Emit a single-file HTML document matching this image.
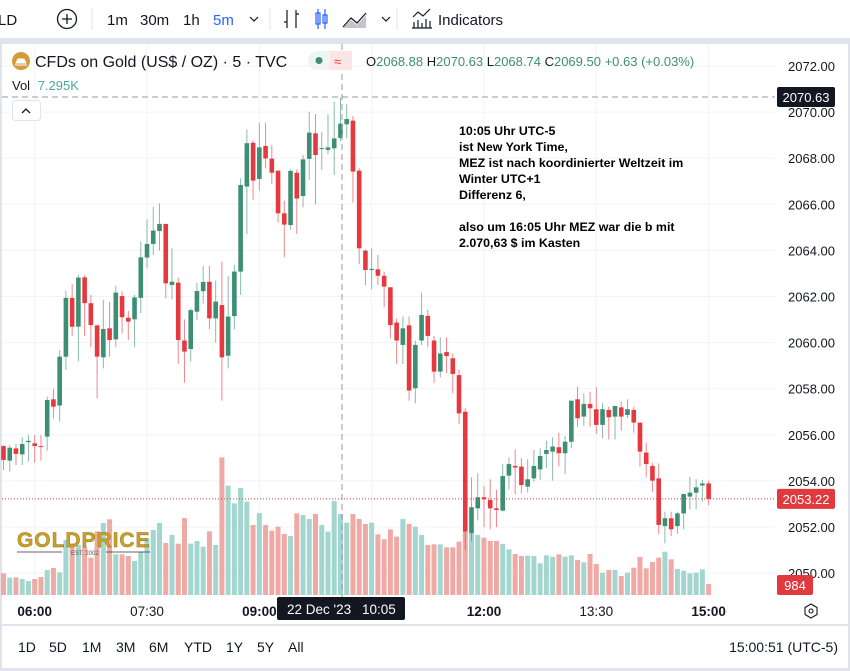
<!DOCTYPE html>
<html><head><meta charset="utf-8">
<style>
html,body{margin:0;padding:0;background:#fff;}
body{width:850px;height:671px;overflow:hidden;font-family:"Liberation Sans",sans-serif;position:relative;}
svg{position:absolute;left:0;top:0;}
text{font-family:"Liberation Sans",sans-serif;}
</style></head>
<body>
<svg id="chart" width="850" height="671" viewBox="0 0 850 671">
  <rect x="0" y="0" width="850" height="38" fill="#fff"/>
  <rect x="0" y="38" width="850" height="6" fill="#e0e3eb"/>
  <text x="-2" y="25" font-size="15" fill="#131722">LD</text>
  <g><circle cx="67" cy="19" r="9.5" fill="none" stroke="#131722" stroke-width="1.3"/><path d="M67 14v10M62 19h10" stroke="#131722" stroke-width="1.3"/></g>
  <line x1="92" y1="8" x2="92" y2="30" stroke="#e0e3eb"/>
  <text x="107" y="25" font-size="15" fill="#131722">1m</text>
  <text x="140" y="25" font-size="15" fill="#131722">30m</text>
  <text x="183" y="25" font-size="15" fill="#131722">1h</text>
  <text x="213" y="25" font-size="15" fill="#2962ff">5m</text>
  <path d="M250 17l4 4 4-4" fill="none" stroke="#131722" stroke-width="1.2"/>
  <line x1="270" y1="8" x2="270" y2="30" stroke="#e0e3eb"/>
  <g stroke="#131722" stroke-width="1.2" fill="none"><path d="M287 10v18M284 22h3M296 10v18M296 14h3"/></g>
  <g stroke="#2962ff" stroke-width="1.2" fill="none"><path d="M318 9v20M325 9v20"/><rect x="316" y="13" width="4" height="11"/><rect x="323" y="15" width="4" height="8"/></g>
  <g><path d="M343 27l8-9 6 5 9-10" fill="none" stroke="#131722" stroke-width="1.2"/><path d="M343 28l8-8 6 5 9-10v13z" fill="#131722" opacity="0.25"/></g>
  <path d="M382 17l4 4 4-4" fill="none" stroke="#131722" stroke-width="1.2"/>
  <line x1="397" y1="8" x2="397" y2="30" stroke="#e0e3eb"/>
  <g><path d="M413 17l5-5 5 4 7-7M414 28v-6M418 28v-8M422 28v-5M426 28v-9M430 28v-7M412 28h20" fill="none" stroke="#131722" stroke-width="1.2"/><text x="438" y="25" font-size="15" fill="#131722">Indicators</text></g>

  <rect x="2" y="44" width="846" height="580" rx="6" fill="#fff"/>
  <rect x="0" y="44" width="2" height="627" fill="#e0e3eb"/>
  <rect x="848" y="44" width="2" height="627" fill="#e0e3eb"/>
  <line x1="2" y1="625" x2="848" y2="625" stroke="#e0e3eb" stroke-width="2"/>
  <g id="grid"></g>
  <g id="vols"></g>

  <g>
    <text x="17" y="547" font-size="21" font-weight="bold" fill="#c9a227" stroke="#8a6d10" stroke-width="0.4" letter-spacing="0.5" textLength="133" font-family="Liberation Sans">GOLDPRICE</text>
    <line x1="17" y1="552" x2="62" y2="552" stroke="#333" stroke-width="0.8"/>
    <line x1="106" y1="552" x2="150" y2="552" stroke="#333" stroke-width="0.8"/>
    <text x="71" y="555" font-size="6" fill="#555" font-family="Liberation Serif">EST. 2002</text>
  </g>

  <g id="candles"></g>

  <line x1="2" y1="97" x2="775" y2="97" stroke="#9598a1" stroke-dasharray="6,4"/>
  <line x1="342" y1="44" x2="342" y2="597" stroke="#9598a1" stroke-dasharray="6,4"/>
  <line id="lastline" x1="2" y1="499" x2="775" y2="499" stroke="#f23645" stroke-dasharray="1,2"/>

  <g>
    <circle cx="21" cy="61" r="9" fill="#d49a3a"/>
    <path d="M15 65h12M16 63l2-4h6l2 4z" fill="#fff" stroke="#fff" stroke-width="1"/>
    <text x="35" y="67" font-size="16" fill="#131722">CFDs on Gold (US$ / OZ) · 5 · TVC</text>
    <rect x="308" y="51" width="44" height="19" rx="9.5" fill="#eef5f2"/>
    <rect x="330" y="51" width="22" height="19" fill="#fbe5e7"/>
    <circle cx="319" cy="60.5" r="3.5" fill="#3d8f74"/>
    <text x="334" y="66" font-size="13" fill="#e0393e">≈</text>
    <text x="366" y="66" font-size="13"><tspan fill="#131722">O</tspan><tspan fill="#3d8f74">2068.88 </tspan><tspan fill="#131722">H</tspan><tspan fill="#3d8f74">2070.63 </tspan><tspan fill="#131722">L</tspan><tspan fill="#3d8f74">2068.74 </tspan><tspan fill="#131722">C</tspan><tspan fill="#3d8f74">2069.50 +0.63 (+0.03%)</tspan></text>
    <text x="12" y="90" font-size="13" fill="#131722">Vol <tspan fill="#4fa89a" dx="4">7.295K</tspan></text>
  </g>
  <g><rect x="12.5" y="100.5" width="28" height="20" rx="3" fill="#fff" stroke="#e0e3eb"/><path d="M22 113l4-4 4 4" fill="none" stroke="#131722" stroke-width="1.3"/></g>

  <g font-size="12.4" font-weight="bold" fill="#000">
    <text x="459" y="135">10:05 Uhr UTC-5</text>
    <text x="459" y="151">ist New York Time,</text>
    <text x="459" y="167">MEZ ist nach koordinierter Weltzeit im</text>
    <text x="459" y="183">Winter UTC+1</text>
    <text x="459" y="199">Differenz 6,</text>
    <text x="459" y="231">also um 16:05 Uhr MEZ war die b mit</text>
    <text x="459" y="247">2.070,63 $ im Kasten</text>
  </g>

  <g id="yaxis"></g>
  <g><rect x="777" y="87" width="58" height="20" rx="2" fill="#131722"/><text x="806" y="102" font-size="13" fill="#fff" text-anchor="middle">2070.63</text></g>
  <g><rect id="lastbox" x="777" y="489" width="58" height="20" rx="2" fill="#e0393e"/><text id="lasttxt" x="806" y="504" font-size="13" fill="#fff" text-anchor="middle">2053.22</text></g>
  <g><rect x="777" y="575" width="36" height="20" rx="2" fill="#e0393e"/><text x="795" y="590" font-size="13" fill="#fff" text-anchor="middle">984</text></g>

  <g id="xaxis"></g>
  <g><rect x="277" y="597" width="128" height="23" rx="2" fill="#131722"/><text x="287" y="614" font-size="13.5" fill="#fff">22 Dec '23</text><text x="362" y="614" font-size="13.5" fill="#fff">10:05</text></g>
  <g><path d="M811 604l6 3.5v7l-6 3.5-6-3.5v-7z" fill="none" stroke="#131722" stroke-width="1.1"/><circle cx="811" cy="611" r="2" fill="none" stroke="#131722" stroke-width="1.1"/></g>

  <g font-size="14" fill="#131722">
    <text x="18" y="652">1D</text>
    <text x="49" y="652">5D</text>
    <text x="82" y="652">1M</text>
    <text x="116" y="652">3M</text>
    <text x="149" y="652">6M</text>
    <text x="184" y="652">YTD</text>
    <text x="226" y="652">1Y</text>
    <text x="257" y="652">5Y</text>
    <text x="288" y="652">All</text>
  </g>
  <text x="838" y="652" font-size="14" fill="#131722" text-anchor="end">15:00:51 (UTC-5)</text>
  <rect x="0" y="668" width="850" height="3" fill="#e0e3eb"/>
</svg>
<script>
const opens=[2055.51,2054.88,2055.41,2055.15,2055.68,2055.63,2055.51,2055.92,2057.54,2057.27,2059.39,2061.94,2060.69,2062.83,2061.71,2060.75,2059.36,2060.62,2060.14,2062.02,2061.08,2061.01,2061.94,2063.69,2064.28,2064.84,2065.15,2062.50,2062.60,2060.09,2059.72,2061.34,2062.23,2062.64,2061.05,2061.63,2059.43,2061.15,2063.08,2066.77,2068.67,2067.10,2068.53,2067.98,2067.46,2065.61,2065.10,2067.37,2066.36,2067.97,2069.08,2068.41,2068.36,2068.43,2068.88,2069.47,2069.63,2067.46,2063.99,2063.15,2063.18,2062.90,2062.40,2060.87,2059.90,2060.75,2058.02,2060.09,2061.16,2060.09,2058.74,2059.59,2059.32,2058.59,2057.00,2051.73,2052.81,2053.29,2053.17,2052.81,2052.71,2054.23,2054.65,2054.62,2053.75,2054.11,2054.50,2055.17,2055.27,2055.46,2055.20,2055.70,2057.54,2056.79,2057.34,2057.11,2056.43,2057.08,2056.79,2057.19,2056.86,2057.08,2056.53,2055.23,2054.65,2054.11,2052.04,2052.38,2052.04,2052.59,2053.32,2053.49,2053.80,2053.89];
const highs=[2055.55,2055.56,2055.60,2055.89,2055.99,2055.99,2055.99,2057.66,2057.99,2059.68,2062.24,2062.54,2062.93,2062.93,2062.07,2060.75,2061.85,2061.76,2062.46,2062.23,2061.37,2062.07,2064.38,2065.35,2065.90,2066.04,2065.15,2064.09,2062.83,2061.01,2061.49,2062.60,2063.32,2063.32,2062.69,2063.51,2062.89,2063.37,2067.13,2069.25,2068.76,2069.54,2069.54,2068.57,2067.46,2066.16,2067.52,2067.52,2068.14,2070.02,2069.92,2069.15,2069.92,2070.45,2070.63,2070.35,2069.83,2067.56,2064.05,2064.09,2063.80,2063.08,2062.40,2061.05,2061.13,2061.13,2060.09,2062.17,2061.42,2060.29,2060.23,2060.23,2059.53,2058.84,2057.15,2054.16,2054.33,2053.78,2054.07,2053.61,2054.73,2055.02,2055.37,2054.98,2054.94,2055.34,2055.41,2055.75,2055.89,2056.09,2055.95,2057.48,2058.09,2057.80,2057.87,2058.06,2057.37,2057.22,2057.25,2057.44,2057.54,2057.22,2056.53,2055.66,2054.79,2054.76,2052.66,2052.66,2052.66,2053.46,2054.18,2054.07,2054.04,2054.01];
const lows=[2054.47,2054.40,2054.69,2054.69,2054.84,2054.79,2054.88,2055.31,2056.72,2056.57,2058.81,2060.29,2059.18,2060.29,2059.80,2057.58,2058.88,2059.39,2059.80,2060.40,2060.12,2059.80,2061.27,2063.22,2063.80,2063.99,2061.92,2061.88,2059.07,2058.26,2059.17,2060.98,2061.70,2060.58,2060.00,2057.48,2058.88,2060.58,2062.07,2064.71,2066.19,2066.59,2067.56,2066.88,2065.20,2063.70,2064.89,2064.71,2065.87,2067.06,2066.00,2067.49,2068.18,2067.27,2068.74,2068.86,2066.07,2063.41,2062.50,2062.31,2062.50,2061.53,2060.19,2059.07,2059.07,2057.48,2057.37,2059.90,2059.80,2058.26,2058.49,2058.67,2057.80,2056.47,2051.00,2051.37,2052.28,2051.99,2051.90,2051.99,2052.67,2053.61,2053.43,2053.46,2053.49,2053.97,2054.04,2054.55,2054.01,2054.62,2054.30,2055.41,2056.35,2056.38,2056.35,2056.04,2055.85,2055.80,2055.80,2056.18,2056.72,2056.09,2054.62,2054.16,2053.53,2051.70,2051.29,2051.61,2051.70,2051.90,2052.77,2052.77,2053.10,2052.95];
const closes=[2054.91,2055.44,2055.17,2055.60,2055.74,2055.51,2055.48,2057.51,2057.22,2059.39,2061.94,2060.69,2062.82,2061.71,2060.76,2059.39,2060.59,2060.11,2062.17,2061.10,2060.91,2061.96,2063.70,2064.28,2064.86,2065.15,2062.57,2062.64,2060.11,2059.61,2061.41,2062.24,2062.63,2061.05,2061.78,2059.36,2061.13,2063.08,2066.84,2068.65,2067.03,2068.47,2067.99,2067.37,2065.61,2065.12,2067.45,2066.25,2067.95,2069.11,2068.14,2068.44,2068.47,2068.86,2069.50,2069.70,2067.42,2064.09,2063.15,2063.20,2062.90,2062.43,2060.76,2060.09,2060.62,2057.92,2059.90,2061.20,2060.29,2058.74,2059.53,2059.42,2058.64,2056.93,2051.80,2052.86,2053.29,2053.20,2052.81,2052.74,2054.21,2054.73,2054.58,2053.82,2054.07,2054.65,2055.08,2055.34,2055.49,2055.20,2055.70,2057.48,2056.72,2057.34,2057.15,2056.43,2057.11,2056.76,2057.25,2056.79,2057.11,2056.53,2055.27,2054.73,2054.01,2052.09,2052.38,2051.90,2052.59,2053.43,2053.49,2053.72,2053.89,2053.22];
const volumes=[1950,1560,1590,1440,1260,1440,1620,2250,2430,2040,4950,4650,4500,4350,3360,5730,6480,6810,3660,3660,3510,3060,3900,5100,5850,6480,4680,5400,4620,6930,4620,4860,4350,5730,4500,12390,9840,8250,9630,8400,6300,7380,6300,5790,6150,5490,5310,7350,7200,6840,7290,6300,5700,8460,7290,6510,7290,6840,6390,6510,5460,5010,5910,5250,6840,6390,6150,5400,4500,4560,4560,4290,4290,4800,5700,5550,5400,5160,4860,4860,4590,4110,3690,3510,3540,3510,2850,3570,3450,3660,3450,3570,3150,2940,3690,2790,2010,2250,2250,1710,2010,2460,3420,2400,2970,3360,3900,3210,2340,2190,1950,2010,2310,984];
const priceTicks=[2072,2070,2068,2066,2064,2062,2060,2058,2056,2054,2052,2050];
const timeTickIdx=[5,23,41,59,77,95,113];
const timeTickLabels=["06:00","07:30","09:00","10:30","12:00","13:30","15:00"];
const timeTickBold=[true,false,true,false,true,false,true];

const NS="http://www.w3.org/2000/svg";
const xScale=i=>3.5+6.24*i;
const yScale=p=>66+(2072-p)*23.05;
const vScale=v=>v/90;
const VBASE=595;
function mk(tag,attrs,parent){const e=document.createElementNS(NS,tag);for(const k in attrs)e.setAttribute(k,attrs[k]);parent.appendChild(e);return e;}

const grid=document.getElementById('grid');
priceTicks.forEach(p=>{
  const l=mk('line',{x1:2,x2:775,y1:yScale(p),y2:yScale(p),stroke:'#f0f3fa'},grid);
  
  
});
timeTickIdx.forEach((i,k)=>{
  const l=mk('line',{x1:xScale(i),x2:xScale(i),y1:44,y2:597,stroke:'#f0f3fa'},grid);
  
  
});

const yax=document.getElementById('yaxis');
priceTicks.forEach(p=>{
  const t=mk('text',{x:835,y:yScale(p)+5,'font-size':13,fill:'#131722','text-anchor':'end'},yax);
  t.textContent=p.toFixed(2);
  
  
});
const xax=document.getElementById('xaxis');
timeTickIdx.forEach((i,k)=>{
  const t=mk('text',{x:xScale(i),y:616,'font-size':13.5,fill:'#131722','text-anchor':'middle','font-weight':timeTickBold[k]?'bold':'normal'},xax);
  t.textContent=timeTickLabels[k];
  
  
});

const vg=document.getElementById('vols');
volumes.forEach((v,i)=>{
  const up=closes[i]>=opens[i];
  const h=vScale(v);
  const r=mk('rect',{x:xScale(i)-2.5,y:VBASE-h,width:5,height:h,fill:up?'#a3d6cf':'#f0aaa6'},vg);
  
  
});

const cg=document.getElementById('candles');
opens.forEach((o,i)=>{
  const c=closes[i];
  const up=c>=o;
  const col=up?'#3d8f74':'#e5393f';
  const x=xScale(i);
  const g=mk('g',{},cg);
  
  
  mk('line',{x1:x,x2:x,y1:yScale(highs[i]),y2:yScale(lows[i]),stroke:col,'stroke-width':1,opacity:0.6},g);
  const top=yScale(Math.max(o,c)),bot=yScale(Math.min(o,c));
  mk('rect',{x:x-2.3,y:top,width:4.6,height:Math.max(1,bot-top),fill:col},g);
});

const last=closes[closes.length-1];
document.getElementById('lastline').setAttribute('y1',yScale(last));
document.getElementById('lastline').setAttribute('y2',yScale(last));
document.getElementById('lastbox').setAttribute('y',yScale(last)-10);
document.getElementById('lasttxt').setAttribute('y',yScale(last)+5);
document.getElementById('lasttxt').textContent=last.toFixed(2);
</script>
</body></html>
